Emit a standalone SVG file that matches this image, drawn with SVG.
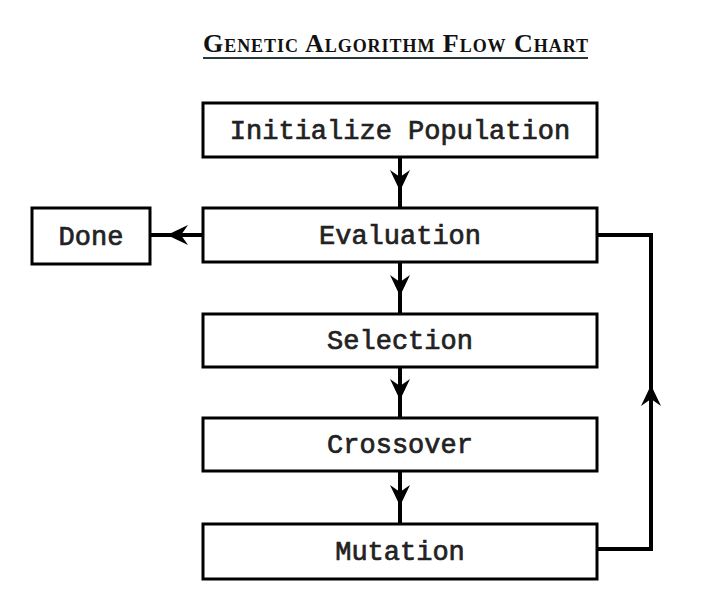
<svg xmlns="http://www.w3.org/2000/svg" width="726" height="604" viewBox="0 0 726 604">
<style>
.box{fill:#fff;stroke:#000;stroke-width:3}
.lbl{font-family:"Liberation Mono","Courier New",monospace;font-size:27px;fill:#222;stroke:#222;stroke-width:0.7;text-anchor:middle}
.con{fill:none;stroke:#000;stroke-width:4;stroke-linejoin:miter}
.title{font-family:"Liberation Serif","Times New Roman",serif;font-weight:bold;font-size:26px;font-variant:small-caps;fill:#111}
</style>
<defs>
<path id="ah" d="M0,0 L-10,-21 L0,-14 L10,-21 Z" fill="#000"/>
</defs>
<g id="title">
<text class="title" x="203" y="52" textLength="385" lengthAdjust="spacing">Genetic  Algorithm  Flow  Chart</text>
<line x1="203" y1="58" x2="588" y2="58" stroke="#2a3a3a" stroke-width="2"/>
</g>
<g id="connectors">
<path class="con" d="M400,157 V208"/>
<use href="#ah" transform="translate(400,191)"/>
<path class="con" d="M400,262 V314"/>
<use href="#ah" transform="translate(400,296)"/>
<path class="con" d="M400,367 V418"/>
<use href="#ah" transform="translate(400,400)"/>
<path class="con" d="M400,471 V524"/>
<use href="#ah" transform="translate(400,506)"/>
<path class="con" d="M203,235 H150"/>
<use href="#ah" transform="translate(167,235) rotate(90)"/>
<path class="con" d="M597,549 H651 V235 H597"/>
<use href="#ah" transform="translate(651,385) rotate(180)"/>
</g>
<g id="init">
<rect class="box" x="203" y="103" width="394" height="54"/>
<text class="lbl" x="400" y="139">Initialize Population</text>
</g>
<g id="evaluation">
<rect class="box" x="203" y="208" width="394" height="54"/>
<text class="lbl" x="400" y="244">Evaluation</text>
</g>
<g id="done">
<rect class="box" x="32" y="208" width="118" height="56"/>
<text class="lbl" x="91" y="245">Done</text>
</g>
<g id="selection">
<rect class="box" x="203" y="314" width="394" height="53"/>
<text class="lbl" x="400" y="349">Selection</text>
</g>
<g id="crossover">
<rect class="box" x="203" y="418" width="394" height="53"/>
<text class="lbl" x="400" y="453">Crossover</text>
</g>
<g id="mutation">
<rect class="box" x="203" y="524" width="394" height="55"/>
<text class="lbl" x="400" y="560">Mutation</text>
</g>
</svg>
